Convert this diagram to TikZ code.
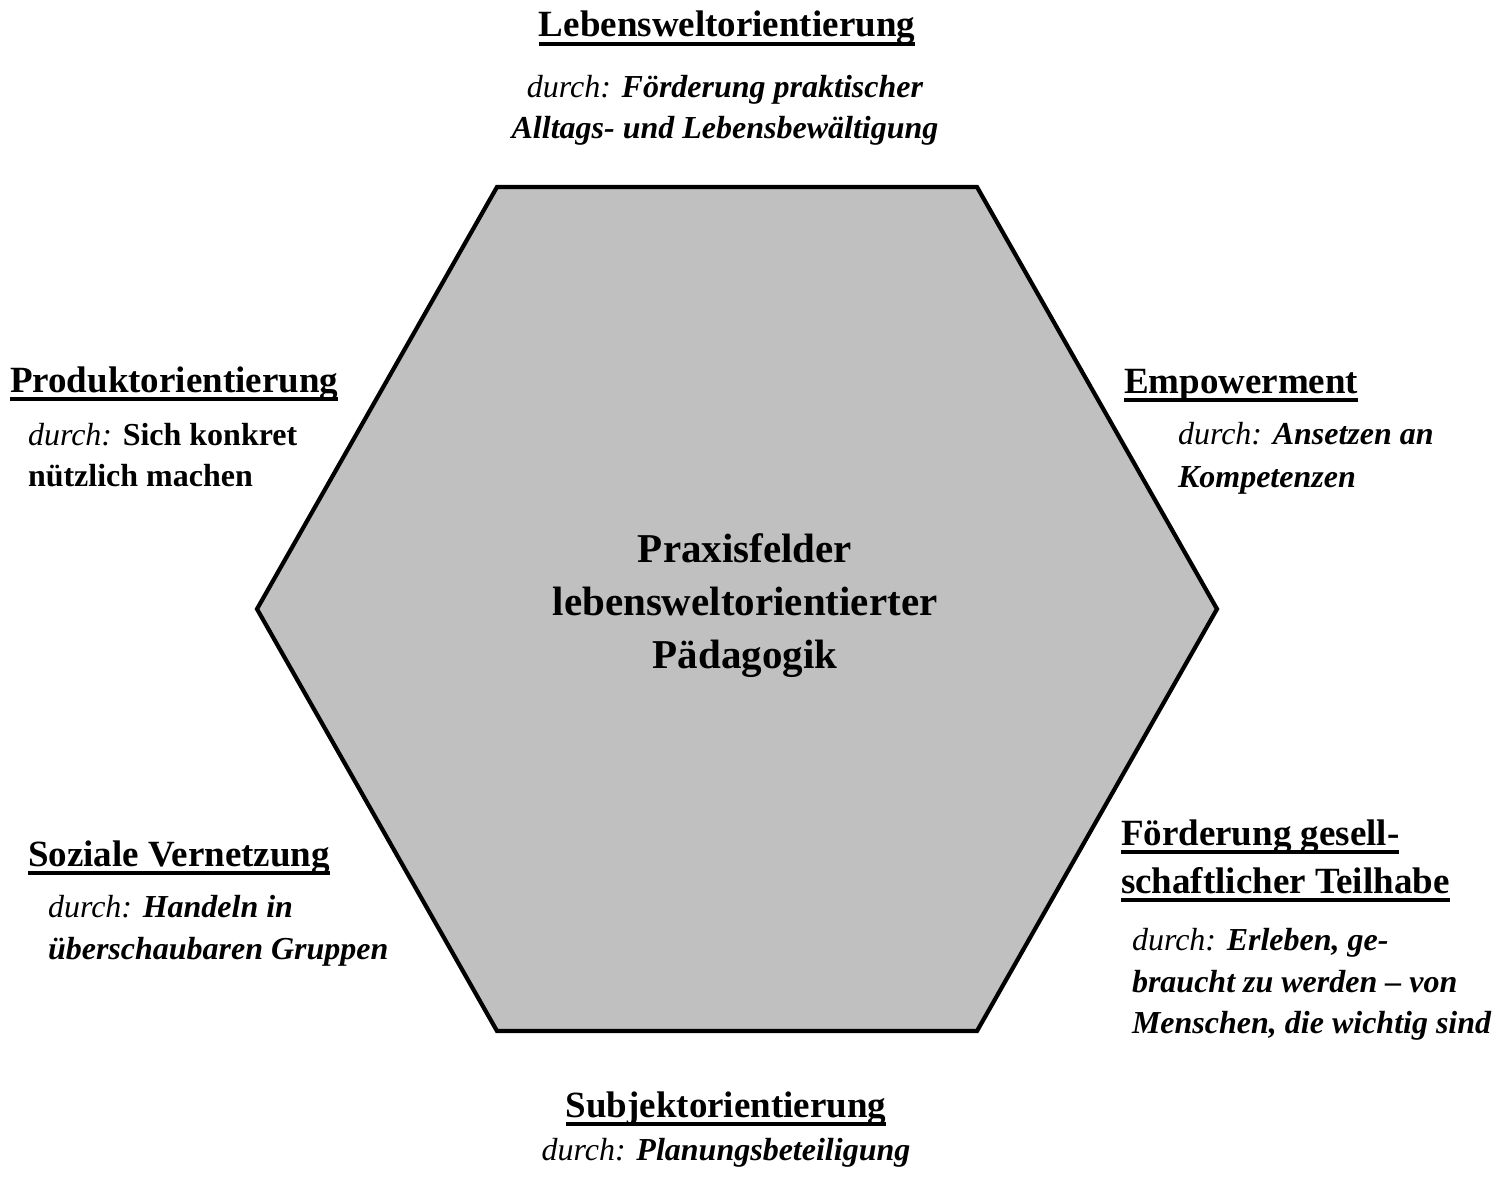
\documentclass[tikz,border=0pt]{standalone}
\usepackage{fontspec}
\setmainfont{Liberation Serif}
\newcommand{\dur}{{\itshape durch:}}
\begin{document}
\begin{tikzpicture}[x=1pt,y=-1pt,
  every node/.style={inner sep=0pt,outer sep=0pt},
  head/.style={font=\fontsize{37}{42}\selectfont\bfseries},
  body/.style={font=\fontsize{32}{42}\selectfont},
  center/.style={font=\fontsize{41}{54}\selectfont\bfseries},
  uline/.style={line width=4.2pt}]
\useasboundingbox (0,0) rectangle (1507,1177);
% hexagon
\draw[line width=4.2pt,fill={rgb,255:red,192;green,192;blue,192},line join=miter]
  (497,187) -- (977,187) -- (1217,609) -- (977,1031) -- (497,1031) -- (257,609) -- cycle;
% center text
\node[center,anchor=base] (c1) at (745,562) {Praxisfelder};
\node[center,anchor=base] (c2) at (745,615) {lebensweltorientierter};
\node[center,anchor=base] (c3) at (745,668) {Pädagogik};
% top
\node[head,anchor=base] (t0) at (727,37) {Lebensweltorientierung};
\node[body,anchor=base] (t1) at (725,98) {\dur{} {\bfseries\itshape Förderung praktischer}};
\node[body,anchor=base] (t2) at (725,139) {{\bfseries\itshape Alltags- und Lebensbewältigung}};
% left
\node[head,anchor=base west] (l0) at (10,392) {Produktorientierung};
\node[body,anchor=base west] (l1) at (28,445) {\dur{} {\bfseries Sich konkret}};
\node[body,anchor=base west] (l2) at (28,486) {{\bfseries nützlich machen}};
% right
\node[head,anchor=base west] (r0) at (1124,393) {Empowerment};
\node[body,anchor=base west] (r1) at (1178,444) {\dur{} {\bfseries\itshape Ansetzen an}};
\node[body,anchor=base west] (r2) at (1178,487) {{\bfseries\itshape Kompetenzen}};
% bottom left
\node[head,anchor=base west] (bl0) at (28,866) {Soziale Vernetzung};
\node[body,anchor=base west] (bl1) at (48,917) {\dur{} {\bfseries\itshape Handeln in}};
\node[body,anchor=base west] (bl2) at (48,959) {{\bfseries\itshape überschaubaren Gruppen}};
% bottom right
\node[head,anchor=base west] (br0) at (1121,845) {Förderung gesell-};
\node[head,anchor=base west] (br1) at (1121,893) {schaftlicher Teilhabe};
\node[body,anchor=base west] (br2) at (1132,950) {\dur{} {\bfseries\itshape Erleben, ge-}};
\node[body,anchor=base west] (br3) at (1132,992) {{\bfseries\itshape braucht zu werden – von}};
\node[body,anchor=base west] (br4) at (1132,1033) {{\bfseries\itshape Menschen, die wichtig sind}};
% bottom
\node[head,anchor=base] (b0) at (726,1117) {Subjektorientierung};
\node[body,anchor=base] (b1) at (726,1160) {\dur{} {\bfseries\itshape Planungsbeteiligung}};
% underlines
\foreach \n in {t0,l0,r0,bl0,br0,br1,b0}
  \draw[uline] ([yshift=-7pt]\n.base west) -- ([yshift=-7pt]\n.base east);
\end{tikzpicture}
\end{document}
